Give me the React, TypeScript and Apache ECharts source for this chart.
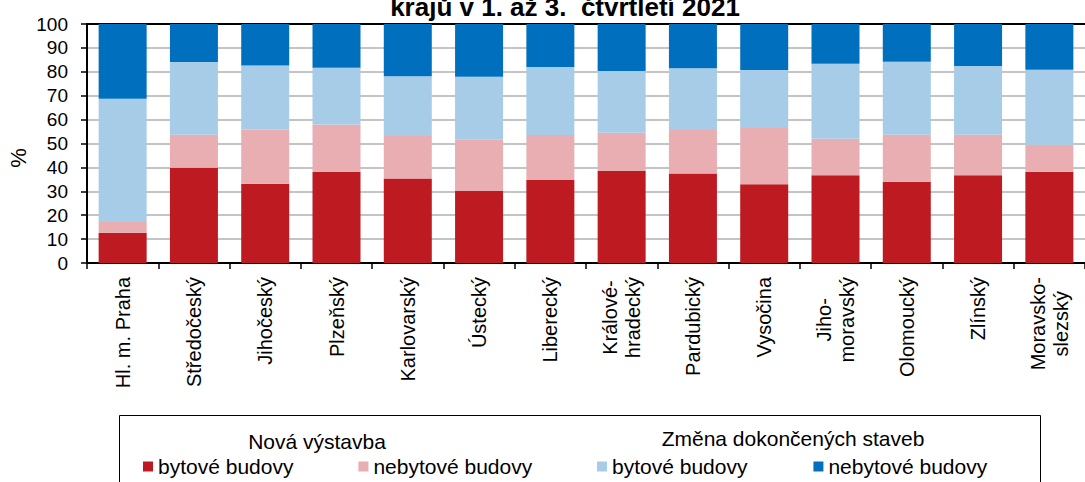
import React, { useEffect, useRef } from "react";
import * as echarts from "echarts";

const categories = [
  "Hl. m. Praha",
  "Středočeský",
  "Jihočeský",
  "Plzeňský",
  "Karlovarský",
  "Ústecký",
  "Liberecký",
  "Králové-\nhradecký",
  "Pardubický",
  "Vysočina",
  "Jiho-\nmoravský",
  "Olomoucký",
  "Zlínský",
  "Moravsko-\nslezský",
];
const novaBytove = [12.7, 39.9, 33.2, 38.1, 35.4, 30.1, 34.7, 38.5, 37.4, 32.9, 36.7, 34.0, 36.7, 38.2];
const novaNebytove = [4.5, 13.8, 22.7, 19.9, 17.7, 21.5, 18.9, 16.0, 18.2, 23.6, 15.3, 19.7, 17.0, 11.3];
const zmenaBytove = [51.5, 30.4, 26.7, 23.7, 25.0, 26.3, 28.4, 25.8, 25.9, 24.3, 31.4, 30.5, 28.7, 31.4];
const zmenaNebytove = [31.3, 15.9, 17.4, 18.3, 21.9, 22.1, 18.0, 19.7, 18.5, 19.2, 16.6, 15.8, 17.6, 19.1];

const seriesNames = [
  "Nová výstavba: bytové budovy",
  "Nová výstavba: nebytové budovy",
  "Změna dokončených staveb: bytové budovy",
  "Změna dokončených staveb: nebytové budovy",
];
const groupTitles = ["Nová výstavba", "Změna dokončených staveb"];
const titleLine = "krajů v 1. až 3.  čtvrtletí 2021";
const yAxisName = "%";

const colors = ["#BE1A22", "#E8AEB1", "#A6CCE7", "#0070BE"];
const FONT = "'Liberation Sans', Arial, sans-serif";

export default function App() {
  const ref = useRef<HTMLDivElement>(null);
  useEffect(() => {
    if (!ref.current) return;
    const chart = echarts.init(ref.current, null, { renderer: "svg" });
    const dataSets = [novaBytove, novaNebytove, zmenaBytove, zmenaNebytove];
    chart.setOption({
      animation: false,
      textStyle: { fontFamily: FONT, color: "#000" },
      grid: { left: 87, top: 24, width: 1005, height: 239, containLabel: false },
      xAxis: [
        {
          type: "category",
          data: categories,
          position: "bottom",
          axisLine: { show: true, lineStyle: { color: "#000", width: 2 } },
          axisTick: { show: true, alignWithLabel: false, length: 6, lineStyle: { color: "#000", width: 1.5 } },
          axisLabel: {
            interval: 0,
            rotate: 90,
            margin: 14,
            color: "#000",
            fontSize: 20,
            fontFamily: FONT,
            lineHeight: 23,
            formatter: (v: string) => v.split("\n").map((s) => `{c|${s}}`).join("\n"),
            rich: { c: { align: "center", fontSize: 20, lineHeight: 23, fontFamily: FONT, color: "#000" } },
          },
          splitLine: { show: false },
        },
        {
          type: "category",
          data: categories,
          position: "top",
          axisLine: { show: true, lineStyle: { color: "#000", width: 2 } },
          axisTick: { show: false },
          axisLabel: { show: false },
          splitLine: { show: false },
        },
      ],
      yAxis: {
        type: "value",
        min: 0,
        max: 100,
        interval: 10,
        axisLine: { show: true, lineStyle: { color: "#000", width: 2 } },
        axisTick: { show: true, inside: false, length: 6, lineStyle: { color: "#000", width: 1.5 } },
        axisLabel: { color: "#000", fontSize: 19, fontFamily: FONT, margin: 19 },
        splitLine: { show: true, lineStyle: { color: "#c4c4c4", width: 2 } },
      },
      legend: [
        {
          data: [seriesNames[0], seriesNames[1]],
          left: 143,
          top: 456,
          padding: 0,
          itemWidth: 10,
          itemHeight: 10,
          itemGap: 65,
          icon: "rect",
          selectedMode: false,
          textStyle: { fontSize: 21, fontFamily: FONT, color: "#000" },
          formatter: (n: string) => n.split(": ")[1],
        },
        {
          data: [seriesNames[2], seriesNames[3]],
          left: 597,
          top: 456,
          padding: 0,
          itemWidth: 10,
          itemHeight: 10,
          itemGap: 66,
          icon: "rect",
          selectedMode: false,
          textStyle: { fontSize: 21, fontFamily: FONT, color: "#000" },
          formatter: (n: string) => n.split(": ")[1],
        },
      ],
      graphic: [
        {
          type: "rect",
          shape: { x: 119.5, y: 415.5, width: 921, height: 120 },
          style: { fill: "none", stroke: "#000", lineWidth: 1 },
          z: 0,
        },
        {
          type: "text",
          x: 317,
          y: 441.5,
          style: { text: groupTitles[0], fontSize: 21, fontFamily: FONT, fill: "#000", align: "center", verticalAlign: "middle" },
        },
        {
          type: "text",
          x: 793,
          y: 438,
          style: { text: groupTitles[1], fontSize: 21, fontFamily: FONT, fill: "#000", align: "center", verticalAlign: "middle" },
        },
        {
          type: "text",
          x: 565,
          y: 7,
          style: { text: titleLine, fontSize: 26, fontWeight: "bold", fontFamily: FONT, fill: "#000", align: "center", verticalAlign: "middle" },
        },
        {
          type: "text",
          x: 18,
          y: 158,
          rotation: Math.PI / 2,
          style: { text: yAxisName, fontSize: 22, fontFamily: FONT, fill: "#000", align: "center", verticalAlign: "middle" },
        },
      ],
      series: dataSets.map((d, i) => ({
        name: seriesNames[i],
        type: "bar",
        stack: "total",
        xAxisIndex: 0,
        barWidth: 48,
        data: d,
        itemStyle: { color: colors[i] },
      })),
    });
    return () => chart.dispose();
  }, []);
  return (
    <div
      ref={ref}
      style={{ position: "fixed", left: 0, top: 0, width: 1085, height: 482, background: "#fff" }}
    />
  );
}
